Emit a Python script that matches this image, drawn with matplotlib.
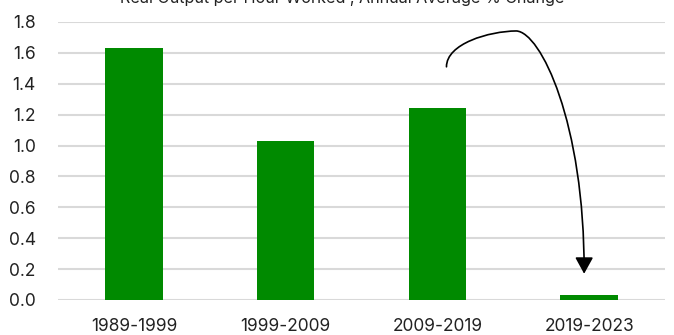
import numpy as np
import matplotlib.pyplot as plt
from matplotlib.path import Path
from matplotlib.patches import FancyArrowPatch

periods = ['1989-1999', '1999-2009', '2009-2019', '2019-2023']
growth = [1.63, 1.03, 1.24, 0.03]
yticks = [0.0, 0.2, 0.4, 0.6, 0.8, 1.0, 1.2, 1.4, 1.6, 1.8]

plt.rcParams['font.family'] = ['Inter', 'DejaVu Sans']

fig = plt.figure(figsize=(6.74, 3.35), dpi=100)
ax = fig.add_axes([58 / 674, 35 / 335, 607 / 674, 278 / 335])

x = np.arange(len(periods))
ax.bar(x, growth, width=0.38, color='#008a00', zorder=3)

ax.set_xlim(-0.5, 3.5)
ax.set_ylim(0, 1.8)
ax.set_yticks(yticks)
ax.set_yticklabels([f'{v:.1f}' for v in yticks])
ax.set_xticks(x)
ax.set_xticklabels(periods)
ax.grid(axis='y', color='#d9d9d9', linewidth=1.5, zorder=0)
for s in ax.spines.values():
    s.set_visible(False)
ax.tick_params(length=0, labelsize=12.5, colors='#222222')
ax.tick_params(axis='y', pad=16)
ax.tick_params(axis='x', pad=13)

# curved arrow from 2009-2019 down to 2019-2023
verts = [(2.06, 1.51), (2.06, 1.66), (2.34, 1.74), (2.52, 1.742),
         (2.68, 1.735), (2.97, 1.15), (2.967, 0.17)]
codes = [Path.MOVETO] + [Path.CURVE4] * 6
arrow = FancyArrowPatch(path=Path(verts, codes), arrowstyle='-|>,head_length=10,head_width=5.5',
                        color='black', linewidth=1.2, zorder=5)
ax.add_patch(arrow)

# title sits partly above the top edge, as in the source image
fig.text(342 / 674, 1 - 3 / 335, 'Real Output per Hour Worked , Annual Average % Change',
         ha='center', va='baseline', fontsize=11.6, color='#222222')

fig.savefig('out.png', dpi=100)
